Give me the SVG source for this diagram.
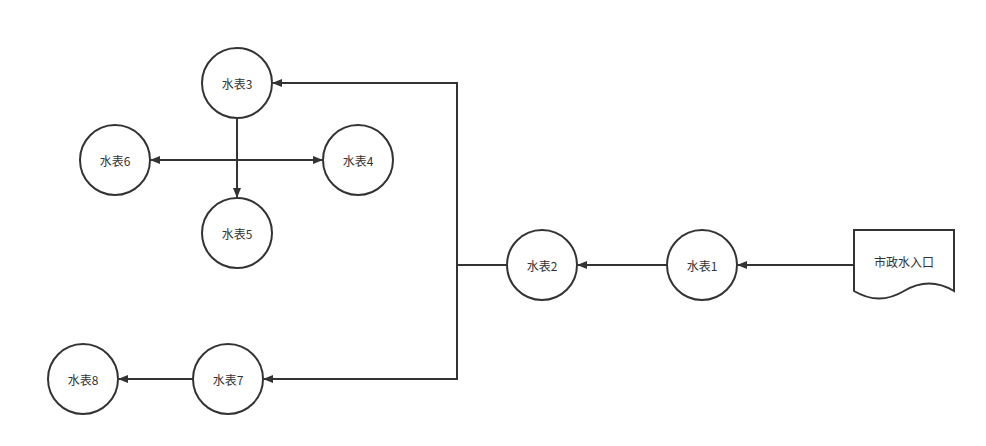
<svg xmlns="http://www.w3.org/2000/svg" width="986" height="446" viewBox="0 0 986 446">
<style>
.n{fill:#fff;stroke:#333;stroke-width:2}
.t{font-family:"Noto Sans CJK SC","Liberation Sans",sans-serif;font-size:12px;fill:#333;text-anchor:middle;dominant-baseline:central}
.e{fill:none;stroke:#333;stroke-width:2}
</style>
<defs>
<marker id="a" viewBox="0 0 10 8" refX="9" refY="4" markerWidth="10" markerHeight="8" markerUnits="userSpaceOnUse" orient="auto">
<path d="M0,0 L10,4 L0,8 Z" fill="#333"/>
</marker>
</defs>
<rect width="986" height="446" fill="#fff"/>
<g id="connectors">
<path class="e" d="M854,265 H738" marker-end="url(#a)"/>
<path class="e" d="M667,265 H578" marker-end="url(#a)"/>
<path class="e" d="M507,265 H457 V83 H273" marker-end="url(#a)"/>
<path class="e" d="M457,265 V379 H264" marker-end="url(#a)"/>
<path class="e" d="M193,379 H119" marker-end="url(#a)"/>
<path class="e" d="M237,118 V197" marker-end="url(#a)"/>
<path class="e" d="M237,160 H151" marker-end="url(#a)"/>
<path class="e" d="M237,160 H322" marker-end="url(#a)"/>
</g>
<g id="inlet">
<path class="n" d="M854,230 H954 V291 Q929,276 904,291 Q879,306 854,291 Z"/>
<text class="t" x="904" y="261">市政水入口</text>
</g>
<g id="m1"><circle class="n" cx="702" cy="265" r="35"/><text class="t" x="702" y="265">水表1</text></g>
<g id="m2"><circle class="n" cx="542" cy="265" r="35"/><text class="t" x="542" y="265">水表2</text></g>
<g id="m3"><circle class="n" cx="237" cy="83" r="35"/><text class="t" x="237" y="83">水表3</text></g>
<g id="m4"><circle class="n" cx="358" cy="160" r="35"/><text class="t" x="358" y="160">水表4</text></g>
<g id="m5"><circle class="n" cx="237" cy="233" r="35"/><text class="t" x="237" y="233">水表5</text></g>
<g id="m6"><circle class="n" cx="115" cy="160" r="35"/><text class="t" x="115" y="160">水表6</text></g>
<g id="m7"><circle class="n" cx="228" cy="379" r="35"/><text class="t" x="228" y="379">水表7</text></g>
<g id="m8"><circle class="n" cx="83" cy="379" r="35"/><text class="t" x="83" y="379">水表8</text></g>
</svg>
